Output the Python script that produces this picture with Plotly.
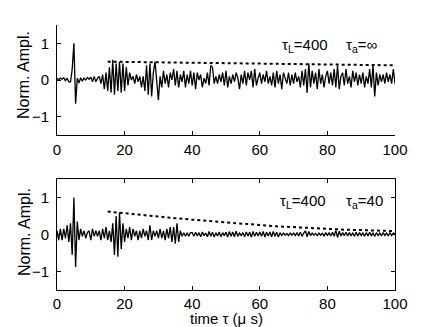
import numpy as np
import plotly.graph_objects as go

sig_inf = [
    0.05, 0.0, 0.05, 0.02, 0.06, -0.02, 0.05, -0.05, -0.05, 0.3,
    1.0, -0.65, 0.05, -0.08, 0.06, -0.03, 0.05, 0.0, 0.07, 0.02,
    0.08, -0.05, 0.1, -0.05, 0.05, 0.1, -0.1, 0.15, -0.25, 0.2,
    -0.3, 0.35, -0.35, 0.55, -0.4, 0.45, -0.3, 0.5, -0.35, 0.45,
    -0.3, 0.35, -0.15, 0.2, 0.0, 0.1, -0.1, 0.15, -0.05, 0.1,
    -0.2, 0.1, -0.3, 0.4, -0.4, 0.45, -0.45, 0.2, 0.5, -0.1,
    -0.55, 0.1, -0.2, 0.25, -0.1, 0.15, -0.2, 0.2, 0.0, 0.3,
    -0.15, 0.25, -0.2, 0.15, -0.05, 0.25, -0.2, 0.15, -0.1, 0.25,
    -0.15, 0.2, -0.25, 0.2, 0.0, 0.15, -0.2, 0.05, -0.1, 0.2,
    -0.15, 0.4, 0.35, -0.1, 0.1, -0.1, 0.15, -0.05, 0.2, -0.15,
    0.25, -0.2, 0.1, -0.1, 0.15, -0.05, 0.2, 0.05, -0.25, 0.15,
    -0.1, 0.25, -0.15, 0.2, 0.0, 0.25, -0.2, 0.3, -0.15, 0.05,
    0.2, -0.1, 0.15, -0.05, 0.25, -0.1, 0.1, -0.15, 0.2, -0.2,
    0.25, -0.1, 0.15, -0.25, 0.2, 0.05, -0.1, 0.2, -0.15, 0.15,
    -0.1, 0.2, -0.05, 0.1, -0.2, 0.25, -0.15, 0.3, -0.35, 0.45,
    -0.2, 0.25, -0.1, 0.2, -0.25, 0.3, -0.1, 0.15, -0.2, 0.1,
    0.25, -0.1, 0.2, -0.15, 0.3, -0.2, 0.4, -0.25, 0.1, 0.2,
    -0.15, 0.3, -0.1, 0.1, -0.2, 0.25, -0.05, 0.2, -0.15, 0.15,
    -0.1, 0.2, -0.2, 0.1, -0.1, 0.3, -0.2, 0.4, -0.45, 0.2,
    -0.15, 0.15, -0.05, 0.15, -0.1, 0.2, -0.05, 0.15, -0.1, 0.3,
    -0.1,
]

sig_40 = [
    0.1, -0.15, 0.15, -0.15, 0.15, -0.1, 0.25, -0.2, 0.3, -0.55,
    1.0, -0.88, 0.35, -0.15, 0.15, -0.05, 0.1, -0.1, 0.05, 0.1,
    -0.15, 0.15, -0.05, 0.1, -0.05, 0.1, -0.15, 0.15, -0.1, 0.2,
    -0.15, 0.1, -0.2, 0.3, -0.55, 0.5, -0.6, 0.6, -0.4, 0.3,
    -0.2, 0.15, -0.1, 0.2, -0.15, 0.15, -0.05, 0.1, -0.15, 0.1,
    -0.1, 0.15, -0.05, 0.1, -0.15, 0.25, -0.15, 0.1, -0.05, 0.1,
    -0.1, 0.15, -0.1, 0.1, -0.15, 0.15, -0.1, 0.2, -0.2, 0.2,
    -0.25, 0.3, -0.2, 0.1, -0.05, 0.05, -0.05, 0.05, -0.05, 0.05,
    0.05, -0.05, 0.06, -0.04, 0.05, -0.06, 0.07, -0.03, 0.04, -0.06,
    0.08, -0.05, 0.06, -0.07, 0.05, -0.04, 0.07, -0.06, 0.05, -0.03,
    0.06, -0.07, 0.08, -0.05, 0.07, -0.06, 0.09, -0.05, 0.04, -0.03,
    0.05, -0.06, 0.07, -0.04, 0.06, -0.07, 0.08, -0.05, 0.06, -0.04,
    0.07, -0.05, 0.08, -0.07, 0.06, -0.04, 0.07, -0.06, 0.08, -0.05,
    0.06, -0.07, 0.05, -0.03, 0.04, -0.02, 0.03, -0.03, 0.04, -0.02,
    0.04, -0.03, 0.05, -0.04, 0.06, -0.05, 0.04, 0.1, -0.06, 0.08,
    -0.03, 0.04, -0.02, 0.03, -0.03, 0.04, -0.02, 0.03, -0.04, 0.05,
    -0.03, 0.05, -0.04, 0.06, -0.05, 0.11, -0.08, 0.09, -0.04, 0.05,
    -0.03, 0.06, -0.04, 0.05, -0.03, 0.04, -0.05, 0.06, -0.04, 0.05,
    -0.03, 0.04, -0.05, 0.05, -0.04, 0.06, -0.03, 0.04, -0.05, 0.05,
    -0.03, 0.04, -0.04, 0.05, -0.03, 0.04, -0.04, 0.05, -0.03, 0.04,
    0.02,
]

# envelope curves (dotted)
env_t = [15, 20, 25, 30, 35, 40, 45, 50, 55, 60, 65, 70, 75, 80, 85, 90, 95, 100]
env_inf = [0.50, 0.495, 0.49, 0.485, 0.48, 0.475, 0.47, 0.465, 0.46, 0.455,
           0.45, 0.445, 0.44, 0.43, 0.425, 0.42, 0.41, 0.40]
env_40 = [0.62, 0.57, 0.52, 0.48, 0.44, 0.40, 0.36, 0.32, 0.28, 0.25,
          0.22, 0.20, 0.17, 0.15, 0.13, 0.12, 0.10, 0.09]

t = np.arange(len(sig_inf)) * 0.5
t2 = np.arange(len(sig_40)) * 0.5

W, H = 436, 327
FONT = "Liberation Sans, Arial"

fig = go.Figure()
fig.add_trace(go.Scatter(x=t, y=sig_inf, mode="lines", line=dict(color="black", width=1.3),
                         xaxis="x", yaxis="y"))
fig.add_trace(go.Scatter(x=env_t, y=env_inf, mode="lines", line=dict(color="black", width=2, dash="dot"),
                         xaxis="x", yaxis="y"))
fig.add_trace(go.Scatter(x=t2, y=sig_40, mode="lines", line=dict(color="black", width=1.3),
                         xaxis="x2", yaxis="y2"))
fig.add_trace(go.Scatter(x=env_t, y=env_40, mode="lines", line=dict(color="black", width=2, dash="dot"),
                         xaxis="x2", yaxis="y2"))

ax = dict(showgrid=False, zeroline=False, showline=True, linecolor="black", linewidth=1,
          ticks="inside", ticklen=4, tickcolor="black", automargin=False,
          tickfont=dict(family=FONT, size=15, color="black"))
xdom = [57 / W, 395 / W]
ydom_top = [1 - 135 / H, 1 - 25 / H]
ydom_bot = [1 - 290 / H, 1 - 179 / H]

fig.update_layout(
    width=W, height=H,
    margin=dict(l=0, r=0, t=0, b=0, autoexpand=False),
    paper_bgcolor="white", plot_bgcolor="white",
    showlegend=False,
    font=dict(family=FONT, size=14, color="black"),
    xaxis=dict(ax, domain=xdom, range=[0, 100], tickvals=[0, 20, 40, 60, 80, 100], anchor="y",
               ticklabelstandoff=1),
    yaxis=dict(ax, domain=ydom_top, range=[-1.5, 1.5], tickvals=[-1, 0, 1],
               ticktext=["\u22121", "0", "1"], anchor="x", ticklabelstandoff=4),
    xaxis2=dict(ax, domain=xdom, range=[0, 100], tickvals=[0, 20, 40, 60, 80, 100], anchor="y2",
                mirror="ticks", ticklabelstandoff=0),
    yaxis2=dict(ax, domain=ydom_bot, range=[-1.5, 1.5], tickvals=[-1, 0, 1],
                ticktext=["\u22121", "0", "1"], anchor="x2", mirror="ticks", ticklabelstandoff=4),
)

# axis titles
for yc in [1 - 75 / H, 1 - 232 / H]:
    fig.add_annotation(x=24 / W, y=yc, xref="paper", yref="paper", text="Norm. Ampl.",
                       xanchor="center", yanchor="middle",
                       textangle=-90, showarrow=False, font=dict(size=16))
fig.add_annotation(x=226 / W, y=1 - 318 / H, xref="paper", yref="paper", text="time \u03c4 (\u03bc s)",
                   xanchor="center", yanchor="middle", showarrow=False, font=dict(size=15))

fig.add_annotation(x=66, y=0.93, xref="x", yref="y", xanchor="left", showarrow=False,
                   text="\u03c4<sub>L</sub>=400", font=dict(size=15))
fig.add_annotation(x=85, y=0.93, xref="x", yref="y", xanchor="left", showarrow=False,
                   text="\u03c4<sub>a</sub>=\u221e", font=dict(size=15))
fig.add_annotation(x=65.5, y=0.88, xref="x2", yref="y2", xanchor="left", showarrow=False,
                   text="\u03c4<sub>L</sub>=400", font=dict(size=15))
fig.add_annotation(x=85, y=0.88, xref="x2", yref="y2", xanchor="left", showarrow=False,
                   text="\u03c4<sub>a</sub>=40", font=dict(size=15))

# drop the browser's default body margin so the figure sits at the page corner
fig.write_html("out.html", config={"displayModeBar": False},
               post_script="document.body.style.margin='0';")
